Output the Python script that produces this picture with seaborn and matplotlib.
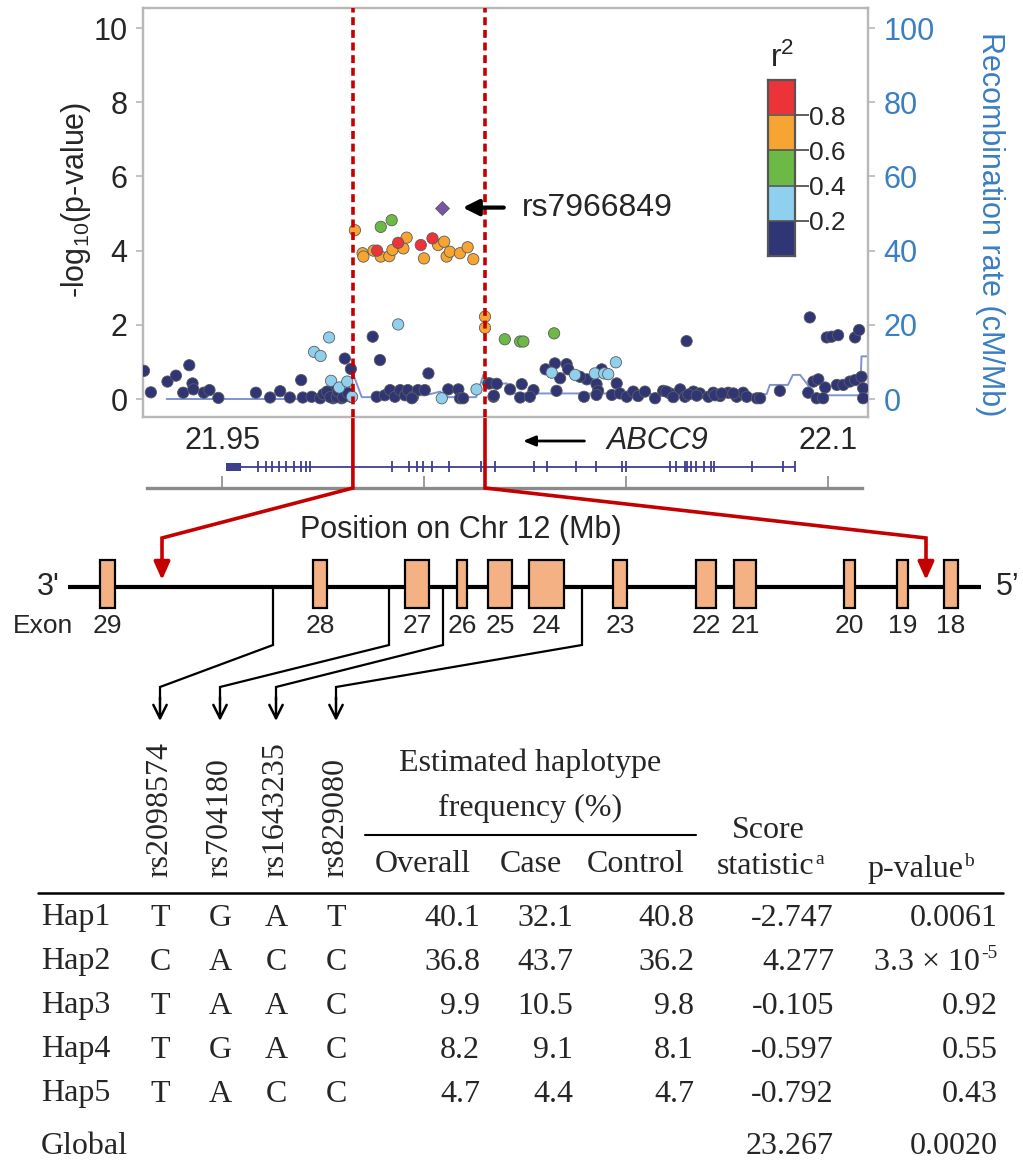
import matplotlib
matplotlib.use("Agg")
import matplotlib.pyplot as plt
from matplotlib.patches import Rectangle
from matplotlib.colors import ListedColormap
import numpy as np
import pandas as pd
import seaborn as sns

# ---------------- regional association data (position in Mb, -log10 p) ----------------
navy_pos = [21.9307, 21.9324, 21.9365, 21.9386, 21.9419, 21.9404, 21.9427, 21.9429, 21.9455, 21.9469,
            21.9491, 21.9584, 21.9619, 21.9644, 21.9668, 21.9696, 21.9700, 21.9722, 21.9743, 21.9751,
            21.9772, 21.9775, 21.9792, 21.9796, 21.9804, 21.9819, 21.9819, 21.9873, 21.9891, 21.9883,
            21.9903, 21.9916, 21.9928, 21.9941, 21.9953, 21.9960, 21.9973, 21.9985, 22.0002, 21.9970,
            22.0011, 22.0060, 22.0085, 22.0089, 22.0097, 22.0172, 22.0159,
            21.9760, 21.9768, 21.9784, 21.9788, 21.9800, 21.9812,
            22.0650, 22.0997, 22.1009, 22.1025, 22.1067, 22.1077, 22.0955,
            22.0301, 22.0324, 22.0353, 22.0357, 22.0337, 22.0403, 22.0427, 22.0440, 22.0477, 22.0386,
            22.0163, 22.0180, 22.0173, 22.0213, 22.0242, 22.0238, 22.0271, 22.0262, 22.0328, 22.0396,
            22.0431, 22.0427,
            22.0465, 22.0485, 22.0502, 22.0518, 22.0530, 22.0547, 22.0572, 22.0592, 22.0609, 22.0634,
            22.0646, 22.0667, 22.0683, 22.0704, 22.0716, 22.0733, 22.0753, 22.0774, 22.0790, 22.0799,
            22.0824, 22.0832, 22.0600, 22.0617, 22.0654, 22.0675, 22.0720, 22.0737, 22.0766,
            22.0881, 22.0951, 22.0964, 22.0976, 22.0993, 22.0972, 22.0988, 22.1022, 22.1038, 22.1054,
            22.1067, 22.1083, 22.1087, 22.1087]
navy_logp = [0.76, 0.18, 0.47, 0.63, 0.91, 0.17, 0.42, 0.26, 0.17, 0.24,
             0.03, 0.17, 0.04, 0.21, 0.04, 0.51, 0.04, 0.06, 0.02, 0.13,
             0.22, 0.02, 0.15, 0.02, 1.09, 0.81, 0.06, 1.68, 1.05, 0.06,
             0.10, 0.24, 0.06, 0.24, 0.10, 0.24, 0.06, 0.24, 0.24, 0.02,
             0.69, 0.26, 0.26, 0.02, 0.02, 0.06, 0.42,
             0.20, 0.05, 0.05, 0.20, 0.05, 0.16,
             1.56, 1.66, 1.68, 1.72, 1.66, 1.86, 2.20,
             0.80, 0.96, 0.94, 0.80, 0.56, 0.53, 0.40, 0.80, 0.42, 0.60,
             0.42, 0.41, 0.09, 0.26, 0.40, 0.04, 0.24, 0.06, 0.22, 0.06,
             0.22, 0.11,
             0.11, 0.15, 0.06, 0.20, 0.08, 0.20, 0.02, 0.22, 0.15, 0.26,
             0.06, 0.20, 0.15, 0.06, 0.17, 0.08, 0.17, 0.06, 0.17, 0.06,
             0.02, 0.02, 0.20, 0.05, 0.12, 0.09, 0.10, 0.15, 0.15,
             0.22, 0.17, 0.47, 0.53, 0.31, 0.02, 0.02, 0.38, 0.38, 0.47,
             0.51, 0.60, 0.29, 0.02]
lblue_pos = [21.9765, 21.9728, 21.9744, 21.9770, 21.9790, 21.9810, 21.9822, 22.0044, 22.0130, 21.9936,
             22.0316, 22.0374, 22.0423, 22.0446, 22.0456, 22.0475]
lblue_logp = [1.66, 1.27, 1.16, 0.49, 0.31, 0.47, 0.06, 0.02, 0.26, 2.01,
              0.71, 0.65, 0.69, 0.69, 0.67, 0.99]
green_pos = [22.0200, 22.0238, 22.0246, 22.0322, 21.9893, 21.9920]
green_logp = [1.61, 1.55, 1.55, 1.77, 4.64, 4.82]
orange_pos = [21.9829, 21.9848, 21.9850, 21.9875, 21.9893, 21.9914, 21.9922, 21.9949, 21.9957, 22.0000,
              22.0035, 22.0050, 22.0056, 22.0064, 22.0089, 22.0108, 22.0122, 22.0151, 22.0151]
orange_logp = [4.55, 3.93, 3.84, 4.00, 3.84, 3.85, 4.02, 4.06, 4.35, 3.79,
               4.15, 4.24, 3.84, 3.97, 3.93, 4.09, 3.77, 2.22, 1.92]
red_pos = [21.9884, 21.9936, 21.9992, 22.0021]
red_logp = [4.00, 4.21, 4.15, 4.33]
lead_pos = [22.0044]
lead_logp = [5.16]
lead_name = "rs7966849"

# recombination rate (cM/Mb)
rec_pos = [21.9363, 21.9693, 21.9804, 21.9824, 21.9846, 21.9908, 21.9924, 22.0002, 22.0022, 22.0040,
           22.0059, 22.0129, 22.0147, 22.0163, 22.0205, 22.0220, 22.0436, 22.0683, 22.0848, 22.0856,
           22.0901, 22.0913, 22.0931, 22.0950, 22.0963, 22.1079, 22.1083, 22.1096]
rec_rate = [0.0, 0.0, 0.2, 6.9, 0.5, 0.5, 1.2, 1.0, 1.5, 2.0,
            0.5, 0.5, 6.5, 4.0, 4.2, 1.5, 1.5, 1.3, 1.3, 3.8,
            3.8, 6.5, 6.5, 3.8, 1.0, 1.0, 11.5, 11.5]

r2_bins = ["0-0.2", "0.2-0.4", "0.4-0.6", "0.6-0.8", "0.8-1"]
r2_colors = ["#2f3575", "#8fd0ef", "#6cb946", "#f6a533", "#eb3338"]
r2_ticks = [0.2, 0.4, 0.6, 0.8]
lead_color = "#7a55a5"

boundary_pos = [21.9824, 22.0151]

# gene track
gene_name = "ABCC9"
gene_start, gene_end = 21.9511, 22.0918
gene_first_block = (21.9511, 21.9546)
gene_exons = [21.9588, 21.9608, 21.9624, 21.9641, 21.9659, 21.9679, 21.9695, 21.9707, 21.9719,
              21.9920, 21.9962, 21.9983, 21.9998, 22.0021, 22.0063, 22.0140, 22.0152, 22.0176,
              22.0273, 22.0304, 22.0375, 22.0425, 22.0490, 22.0499, 22.0609, 22.0624, 22.0645,
              22.0651, 22.0662, 22.0674, 22.0692, 22.0710, 22.0719, 22.0811, 22.0888, 22.0918]
axis_ticks = [21.95, 22.0, 22.05, 22.1]
axis_labels = ["21.95", "", "", "22.1"]

# exon schematic (schematic units along the drawn gene)
exon_ids = ["29", "28", "27", "26", "25", "24", "23", "22", "21", "20", "19", "18"]
exon_left = [100, 313, 405, 457, 488, 529, 613, 696, 734, 844, 897, 944]
exon_right = [115, 327, 429, 467, 512, 564, 627, 716, 756, 855, 908, 958]
schematic_boundary = [162, 926]

snp_names = ["rs2098574", "rs704180", "rs1643235", "rs829080"]
snp_site = [273, 389, 443, 582]
snp_column = [160, 220, 276, 336]

# haplotype table
hap_names = ["Hap1", "Hap2", "Hap3", "Hap4", "Hap5"]
hap_alleles = [["T", "G", "A", "T"], ["C", "A", "C", "C"], ["T", "A", "A", "C"],
               ["T", "G", "A", "C"], ["T", "A", "C", "C"]]
freq_overall = ["40.1", "36.8", "9.9", "8.2", "4.7"]
freq_case = ["32.1", "43.7", "10.5", "9.1", "4.4"]
freq_control = ["40.8", "36.2", "9.8", "8.1", "4.7"]
score_stat = ["-2.747", "4.277", "-0.105", "-0.597", "-0.792"]
p_mantissa = ["0.0061", "3.3 \u00d7 10", "0.92", "0.55", "0.43"]
p_exponent = ["", "-5", "", "", ""]
global_score = "23.267"
global_p = "0.0020"

# ---------------- styling ----------------
sns.set_theme(style="white")
plt.rcParams["font.family"] = ["Liberation Sans", "DejaVu Sans"]
plt.rcParams["mathtext.fontset"] = "custom"
plt.rcParams["mathtext.rm"] = "Liberation Sans"
plt.rcParams["mathtext.it"] = "Liberation Sans:italic"
plt.rcParams["mathtext.bf"] = "Liberation Sans:bold"

W, H = 1023, 1173
fig = plt.figure(figsize=(W / 100, H / 100), dpi=100)
fig.patch.set_facecolor("white")


def fx(px):
    return px / W


def fy(py):
    return 1 - py / H


MB_PER_PX = 1 / 4040.0
RED = "#c40000"
SPINE = "#b8b8b8"
BLUE = "#3a7fc2"
SERIF = ["Liberation Serif", "DejaVu Serif"]

# ---------------- main regional plot ----------------
ax = fig.add_axes([fx(143), fy(417), (868 - 143) / W, (417 - 8) / H])
ax2 = ax.twinx()
ax.set_zorder(ax2.get_zorder() + 1)
ax.patch.set_visible(False)

sns.lineplot(x=rec_pos, y=rec_rate, ax=ax2, color="#7088cc", lw=1.4, sort=False,
             estimator=None, alpha=0.9)

frames = []
for name, p, l in zip(r2_bins, [navy_pos, lblue_pos, green_pos, orange_pos, red_pos],
                      [navy_logp, lblue_logp, green_logp, orange_logp, red_logp]):
    frames.append(pd.DataFrame({"pos": p, "logp": l, "r2": name}))
snps = pd.concat(frames, ignore_index=True)
sns.scatterplot(data=snps, x="pos", y="logp", hue="r2", hue_order=r2_bins,
                palette=dict(zip(r2_bins, r2_colors)), s=66, edgecolor="#5c5c5c",
                linewidth=0.6, legend=False, ax=ax, zorder=3)
sns.scatterplot(x=lead_pos, y=lead_logp, marker="D", s=50, color=lead_color,
                edgecolor="#5c5c5c", linewidth=0.6, legend=False, ax=ax, zorder=4)

xlo = 21.95 - 79 * MB_PER_PX
xhi = 21.95 + 646 * MB_PER_PX
ax.set_xlim(xlo, xhi)
ax.set_ylim(-0.485, 10.54)
ax2.set_ylim(-4.85, 105.4)
ax.set_xticks([])
ax2.set_xticks([])
ax.set_xlabel("")
ax.set_ylabel("")
ax2.set_xlabel("")
ax2.set_ylabel("")
ax.set_yticks([0, 2, 4, 6, 8, 10])
ax2.set_yticks([0, 20, 40, 60, 80, 100])
ax.tick_params(axis="y", left=True, labelsize=22, length=5, width=1.2, color=SPINE, pad=6)
ax2.tick_params(axis="y", right=True, labelsize=22, length=5, width=1.2, color=SPINE,
                labelcolor=BLUE, pad=6)
for a in (ax, ax2):
    for s in a.spines.values():
        s.set_color(SPINE)
        s.set_linewidth(1.6)

for b in boundary_pos:
    ax.axvline(b, color=RED, lw=2.6, ls=(0, (2.2, 1.3)), zorder=5)

# lead SNP annotation
ax.annotate("", xy=(lead_pos[0] + 21 * MB_PER_PX, lead_logp[0]),
            xytext=(lead_pos[0] + 62 * MB_PER_PX, lead_logp[0]),
            arrowprops=dict(arrowstyle="-|>,head_length=0.8,head_width=0.4", color="black",
                            lw=3.0, shrinkA=0, shrinkB=0), zorder=6)
ax.text(lead_pos[0] + 80 * MB_PER_PX, lead_logp[0], lead_name, fontsize=23,
        ha="left", va="center", zorder=6)

# r2 colour key
axc = fig.add_axes([fx(768), fy(256), 27 / W, 176 / H])
axc.imshow(np.arange(5).reshape(5, 1), cmap=ListedColormap(r2_colors), origin="lower",
           extent=(0, 1, 0, 1), aspect="auto", interpolation="nearest")
axc.hlines(r2_ticks, 0, 1, color="#555555", lw=1.2)
axc.set_xticks([])
axc.set_yticks(r2_ticks)
axc.set_yticklabels([f"{t:.1f}" for t in r2_ticks])
axc.yaxis.tick_right()
axc.tick_params(axis="y", right=True, left=False, length=10, width=1.2, color="#444444",
                labelsize=19, pad=0)
for s in axc.spines.values():
    s.set_color("#555555")
    s.set_linewidth(1.6)

# ---------------- gene track ----------------
axg = fig.add_axes([fx(147), fy(488), (862 - 147) / W, (488 - 420) / H])
axg.set_xlim(21.95 - 75 * MB_PER_PX, 21.95 + 640 * MB_PER_PX)
axg.set_ylim(488, 420)
axg.patch.set_visible(False)
for k in ("left", "right", "top"):
    axg.spines[k].set_visible(False)
axg.spines["bottom"].set_color("#8a8a8a")
axg.spines["bottom"].set_linewidth(2.4)
axg.set_yticks([])
axg.set_xticks(axis_ticks)
axg.set_xticklabels([])
axg.tick_params(axis="x", bottom=True, direction="in", length=9, width=1.2, color="#8a8a8a")
axg.hlines(467, gene_start, gene_end, color="#3d3f8f", lw=1.3)
axg.vlines(gene_exons, 461.5, 472.5, color="#3d3f8f", lw=1.3)
axg.add_patch(Rectangle((gene_first_block[0], 463), gene_first_block[1] - gene_first_block[0], 8,
                        color="#3d3f8f", lw=0))
for t, lab in zip(axis_ticks, axis_labels):
    if lab:
        axg.text(t, 441, lab, fontsize=22, ha="center", va="center")
axg.text(22.0577, 441, gene_name, fontsize=22, style="italic", ha="center", va="center")
axg.annotate("", xy=(22.0245, 441), xytext=(22.0397, 441), annotation_clip=False,
             arrowprops=dict(arrowstyle="-|>,head_length=0.6,head_width=0.25", color="black",
                             lw=2.0, shrinkA=0, shrinkB=0))

# ---------------- overlay (schematic + table, pixel units) ----------------
ov = fig.add_axes([0, 0, 1, 1])
ov.set_xlim(0, W)
ov.set_ylim(H, 0)
ov.axis("off")

# axis titles of the regional plot
ov.text(76, 200, r"-log$_{10}$(p-value)", fontsize=22, rotation=90, ha="center", va="center")
ov.text(990, 224, "Recombination rate (cM/Mb)", fontsize=22, rotation=270, ha="center",
        va="center", color=BLUE)
ov.text(782, 58, r"r$^2$", fontsize=23, ha="center", va="center")

# red connectors from boundaries to the schematic
for b, tip in zip(boundary_pos, schematic_boundary):
    dx = ax.transData.transform((b, 0))[0]
    ov.plot([dx, dx, tip, tip], [417, 488, 538, 566], color=RED, lw=2.6,
            solid_joinstyle="miter", solid_capstyle="butt")
    ov.annotate("", xy=(tip, 580), xytext=(tip, 560),
                arrowprops=dict(arrowstyle="-|>,head_length=0.9,head_width=0.4", color=RED,
                                lw=2.6, shrinkA=0, shrinkB=0))

ov.text(461, 530, "Position on Chr 12 (Mb)", fontsize=22, ha="center", va="center")

# exon schematic
ov.plot([68, 981], [587, 587], color="black", lw=3.0, solid_capstyle="butt")
for l, r, lab in zip(exon_left, exon_right, exon_ids):
    ov.add_patch(Rectangle((l, 560), r - l, 48, facecolor="#f4b183", edgecolor="black", lw=1.6,
                           zorder=3))
    ov.text((l + r) / 2, 626, lab, fontsize=19, ha="center", va="center")
ov.text(48, 587, "3'", fontsize=22, ha="center", va="center")
ov.text(1008, 587, "5\u2019", fontsize=22, ha="center", va="center")
ov.text(43, 626, "Exon", fontsize=19, ha="center", va="center")

# SNP connectors
for site, col in zip(snp_site, snp_column):
    ov.plot([site, site, col, col], [587, 645, 687, 700], color="black", lw=1.6,
            solid_joinstyle="miter")
    ov.annotate("", xy=(col, 721), xytext=(col, 697),
                arrowprops=dict(arrowstyle="->,head_length=0.8,head_width=0.4", color="black",
                                lw=1.8, shrinkA=0, shrinkB=0))

# ---------------- haplotype table ----------------
TS = 23
for name, col in zip(snp_names, snp_column):
    ov.text(col, 877, name, fontsize=TS, family=SERIF, rotation=90, ha="center", va="bottom")
ov.text(530, 763, "Estimated haplotype", fontsize=TS, family=SERIF, ha="center", va="center")
ov.text(530, 808, "frequency (%)", fontsize=TS, family=SERIF, ha="center", va="center")
ov.plot([365, 696], [835, 835], color="black", lw=1.5)
ov.text(423, 864, "Overall", fontsize=TS, family=SERIF, ha="center", va="center")
ov.text(531, 864, "Case", fontsize=TS, family=SERIF, ha="center", va="center")
ov.text(636, 864, "Control", fontsize=TS, family=SERIF, ha="center", va="center")
ov.text(768, 830, "Score", fontsize=TS, family=SERIF, ha="center", va="center")
ov.text(814, 867, "statistic", fontsize=TS, family=SERIF, ha="right", va="center")
ov.text(815, 860, "a", fontsize=14, family=SERIF, ha="left", va="center")
ov.text(963, 869, "p-value", fontsize=TS, family=SERIF, ha="right", va="center")
ov.text(964, 862, "b", fontsize=14, family=SERIF, ha="left", va="center")
ov.plot([38, 1003], [893, 893], color="black", lw=1.8)

row_y = [918, 962, 1006, 1050, 1094]
for i, y in enumerate(row_y):
    ov.text(41, y, hap_names[i], fontsize=TS, family=SERIF, ha="left", va="center")
    for a_, col in zip(hap_alleles[i], snp_column):
        ov.text(col, y, a_, fontsize=TS, family=SERIF, ha="center", va="center")
    ov.text(480, y, freq_overall[i], fontsize=TS, family=SERIF, ha="right", va="center")
    ov.text(573, y, freq_case[i], fontsize=TS, family=SERIF, ha="right", va="center")
    ov.text(694, y, freq_control[i], fontsize=TS, family=SERIF, ha="right", va="center")
    ov.text(834, y, score_stat[i], fontsize=TS, family=SERIF, ha="right", va="center")
    if p_exponent[i]:
        ov.text(998, y - 8, p_exponent[i], fontsize=14, family=SERIF, ha="right", va="center")
        ov.text(980, y, p_mantissa[i], fontsize=TS, family=SERIF, ha="right", va="center")
    else:
        ov.text(998, y, p_mantissa[i], fontsize=TS, family=SERIF, ha="right", va="center")
ov.text(41, 1146, "Global", fontsize=TS, family=SERIF, ha="left", va="center")
ov.text(834, 1146, global_score, fontsize=TS, family=SERIF, ha="right", va="center")
ov.text(998, 1146, global_p, fontsize=TS, family=SERIF, ha="right", va="center")

fig.savefig("out.png", dpi=100, facecolor="white")
